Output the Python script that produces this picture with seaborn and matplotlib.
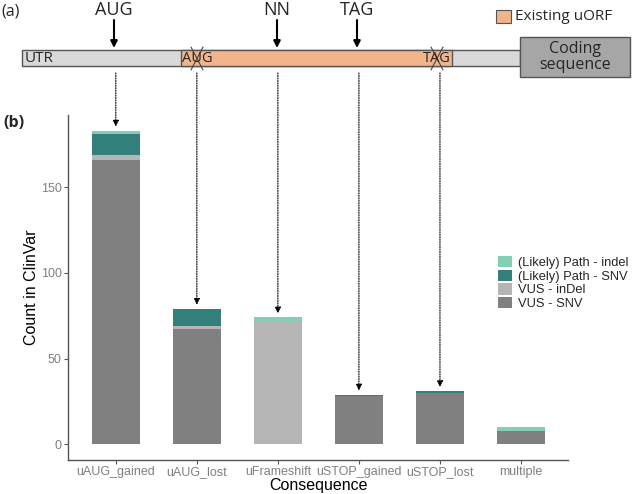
import pandas as pd
import seaborn as sns
import matplotlib.pyplot as plt
from matplotlib.patches import Rectangle

# DONNEES
consequences = ["uAUG_gained", "uAUG_lost", "uFrameshift", "uSTOP_gained", "uSTOP_lost", "multiple"]
types = ["(Likely) Path - indel", "(Likely) Path - SNV", "VUS - inDel", "VUS - SNV"]
path_indel = [2, 0, 2, 0, 0, 2]
path_snv = [12, 10, 0, 1, 1, 0]
vus_indel = [3, 2, 72, 0, 0, 0]
vus_snv = [166, 67, 0, 28, 30, 8]
couleurs = ["#82cfb2", "#337f7b", "#b5b5b5", "#808080"]

series = [path_indel, path_snv, vus_indel, vus_snv]
lignes = []
for t, vals in zip(types, series):
    for c, v in zip(consequences, vals):
        lignes.append({"Consequence": c, "Type": t, "Count": v})
df = pd.DataFrame(lignes)
totaux = [sum(s[i] for s in series) for i in range(len(consequences))]

sns.set_style("white")
plt.rcParams["font.family"] = ["Liberation Sans", "DejaVu Sans"]

fig = plt.figure(figsize=(6.33, 4.94), dpi=100)
ax = fig.add_axes([68 / 633, 1 - 460 / 494, 500 / 633, 345 / 494])

sns.histplot(data=df, x="Consequence", weights="Count", hue="Type", hue_order=types,
             multiple="stack", shrink=0.6, palette=couleurs, linewidth=0, alpha=1, ax=ax)

ax.set_xlim(-0.59, 5.58)
ax.set_ylim(-9.15, 192.15)
ax.set_yticks([0, 50, 100, 150])
ax.set_xlabel("Consequence", fontsize=11.5, color="black", labelpad=0)
ax.set_ylabel("Count in ClinVar", fontsize=11.5, color="black", labelpad=1)
ax.tick_params(axis="both", colors="#555555", labelcolor="#808080", labelsize=9,
               length=3, width=0.8, pad=1.5, bottom=True, left=True)
sns.despine(ax=ax)
for s in ["left", "bottom"]:
    ax.spines[s].set_color("#555555")
    ax.spines[s].set_linewidth(1)

sns.move_legend(ax, "upper left", bbox_to_anchor=(493 / 633, 1 - 251 / 494),
                bbox_transform=fig.transFigure, title=None, frameon=False,
                fontsize=9.3, handlelength=1.1, handleheight=0.95,
                labelspacing=0.05, handletextpad=0.45, borderaxespad=0)

# fleches pointillees vers les barres
for i in range(5):
    ax.annotate("", xy=(i, totaux[i]), xycoords="data",
                xytext=(i, 494 - 73), textcoords=("data", "figure pixels"),
                arrowprops=dict(arrowstyle="-|>", linestyle=(0, (1, 1.2)), color="black",
                                lw=0.8, shrinkA=0, shrinkB=3, mutation_scale=9),
                annotation_clip=False)

# SCHEMA (a)
ov = fig.add_axes([0, 0, 1, 1])
ov.set_xlim(0, 633)
ov.set_ylim(494, 0)
ov.axis("off")
police = ["Open Sans", "DejaVu Sans"]

ov.text(1, 12, "(a)", fontsize=11.5, va="center", ha="left", family=police)
ov.text(3, 123, "(b)", fontsize=11.5, va="center", ha="left", fontweight="bold", family=police)

ov.add_patch(Rectangle((22, 50), 498, 16, fc="#d9d9d9", ec="#555555", lw=1))
ov.add_patch(Rectangle((181, 50), 271, 16, fc="#f2b48a", ec="#555555", lw=1))
ov.add_patch(Rectangle((520, 37), 110, 40, fc="#a6a6a6", ec="#555555", lw=1))
ov.text(575, 57, "Coding\nsequence", fontsize=11.5, ha="center", va="center",
        linespacing=0.95, family=police)
ov.text(25, 58, "UTR", fontsize=11, ha="left", va="center", family=police)
ov.text(182, 58, "AUG", fontsize=10.5, ha="left", va="center", family=police)
ov.text(451, 58, "TAG", fontsize=10.5, ha="right", va="center", family=police)
for cx in [197, 437]:
    ov.plot([cx - 6, cx + 6], [47, 70], color="#444444", lw=0.8)
    ov.plot([cx + 6, cx - 6], [47, 70], color="#444444", lw=0.8)

for x, lab in [(114, "AUG"), (277, "NN"), (357, "TAG")]:
    ov.text(x, 10, lab, fontsize=13, ha="center", va="center", family=police)
    ov.annotate("", xy=(x, 48), xytext=(x, 20),
                arrowprops=dict(arrowstyle="-|>", color="black", lw=1.5,
                                shrinkA=0, shrinkB=0, mutation_scale=10))

ov.add_patch(Rectangle((496, 10), 15, 13, fc="#f2b48a", ec="#555555", lw=0.8))
ov.text(515, 16, "Existing uORF", fontsize=11, ha="left", va="center", family=police)

fig.savefig("out.png", dpi=100)
